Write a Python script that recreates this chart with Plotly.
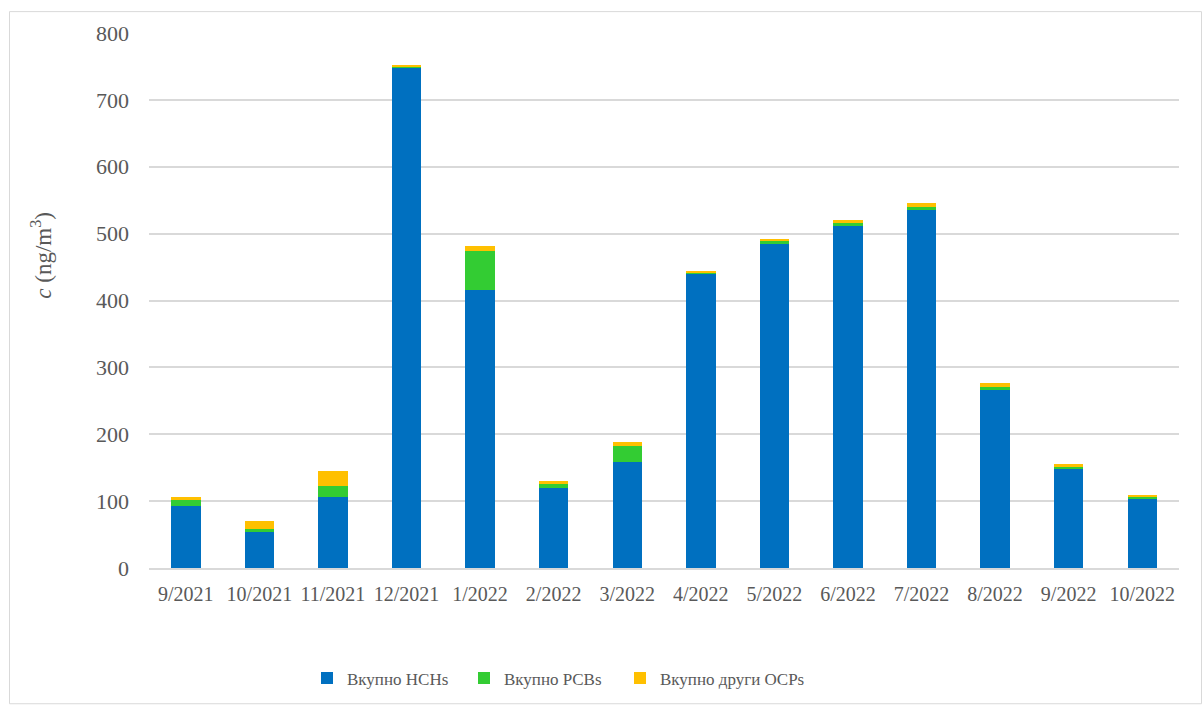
import plotly.graph_objects as go

# Monthly sampling periods
months = ["9/2021", "10/2021", "11/2021", "12/2021", "1/2022", "2/2022", "3/2022",
          "4/2022", "5/2022", "6/2022", "7/2022", "8/2022", "9/2022", "10/2022"]

# Concentrations, ng/m3
hchs = [93, 53.5, 106.5, 749, 416, 119.5, 158, 440.5, 484, 512, 536, 266.5, 147.5, 103.5]
pcbs = [10, 5, 16, 0.5, 58, 7.5, 25, 1.5, 4.5, 4, 4.5, 4.5, 4, 3]
other_ocps = [2.5, 11.5, 22, 3, 8, 2.5, 6, 1, 4, 4, 5.5, 5.5, 3.5, 2]

series_names = ["Вкупно HCHs", "Вкупно PCBs", "Вкупно други OCPs"]
colors = ["#0070C0", "#33CC33", "#FFC000"]
legend_ids = ["legend", "legend2", "legend3"]
y_title = "<i>c</i> (ng/m<sup>3</sup>)"

PLOT_L, PLOT_W = 149, 1030
PLOT_B, PLOT_H = 571, 538


def px_to_paper_x(px):
    return (px - PLOT_L) / PLOT_W


def px_to_paper_y(py):
    return (PLOT_B - py) / PLOT_H


fig = go.Figure()
for name, vals, col, lg in zip(series_names, [hchs, pcbs, other_ocps], colors, legend_ids):
    fig.add_trace(go.Bar(
        x=months, y=vals, name=name, legend=lg,
        marker=dict(color=col, line=dict(width=0)),
    ))

font_family = "Liberation Serif"
legend_font = dict(family=font_family, size=17, color="#595959")
legend_left_px = [307, 464, 620]
legend_cfg = {}
for lg, lx in zip(legend_ids, legend_left_px):
    legend_cfg[lg] = dict(
        orientation="h", x=px_to_paper_x(lx), xanchor="left",
        y=px_to_paper_y(682), yanchor="middle",
        font=legend_font, bgcolor="rgba(0,0,0,0)",
    )

fig.update_layout(
    barmode="stack",
    bargap=0.6,
    width=1202, height=708,
    margin=dict(l=PLOT_L, r=1202 - PLOT_L - PLOT_W, t=33, b=708 - PLOT_B),
    paper_bgcolor="white",
    plot_bgcolor="white",
    font=dict(family=font_family, size=18, color="#595959"),
    showlegend=True,
    xaxis=dict(
        showgrid=False, showline=True, linecolor="#d9d9d9", linewidth=1.5,
        ticks="", ticklabelstandoff=7, tickfont=dict(size=20, color="#595959"),
    ),
    yaxis=dict(
        range=[0, 800], dtick=100, showgrid=True, gridcolor="#d9d9d9", gridwidth=1.5,
        zeroline=False, showline=False, ticks="",
        ticklabelstandoff=19,
        tickfont=dict(size=22, color="#595959"),
    ),
    **legend_cfg,
)

# Vertical axis label, set slightly above the axis midpoint
fig.add_annotation(
    text=y_title, textangle=-90, showarrow=False,
    xref="paper", yref="paper", x=px_to_paper_x(42), y=px_to_paper_y(257),
    xanchor="center", yanchor="middle",
    font=dict(family=font_family, size=23, color="#595959"),
)

# Outer chart frame
fig.add_shape(type="rect", xref="paper", yref="paper",
              x0=px_to_paper_x(9.5), x1=px_to_paper_x(1201.5),
              y0=px_to_paper_y(707.5), y1=px_to_paper_y(11.5),
              line=dict(color="#d9d9d9", width=1), layer="below")

fig.write_html("out.html")
